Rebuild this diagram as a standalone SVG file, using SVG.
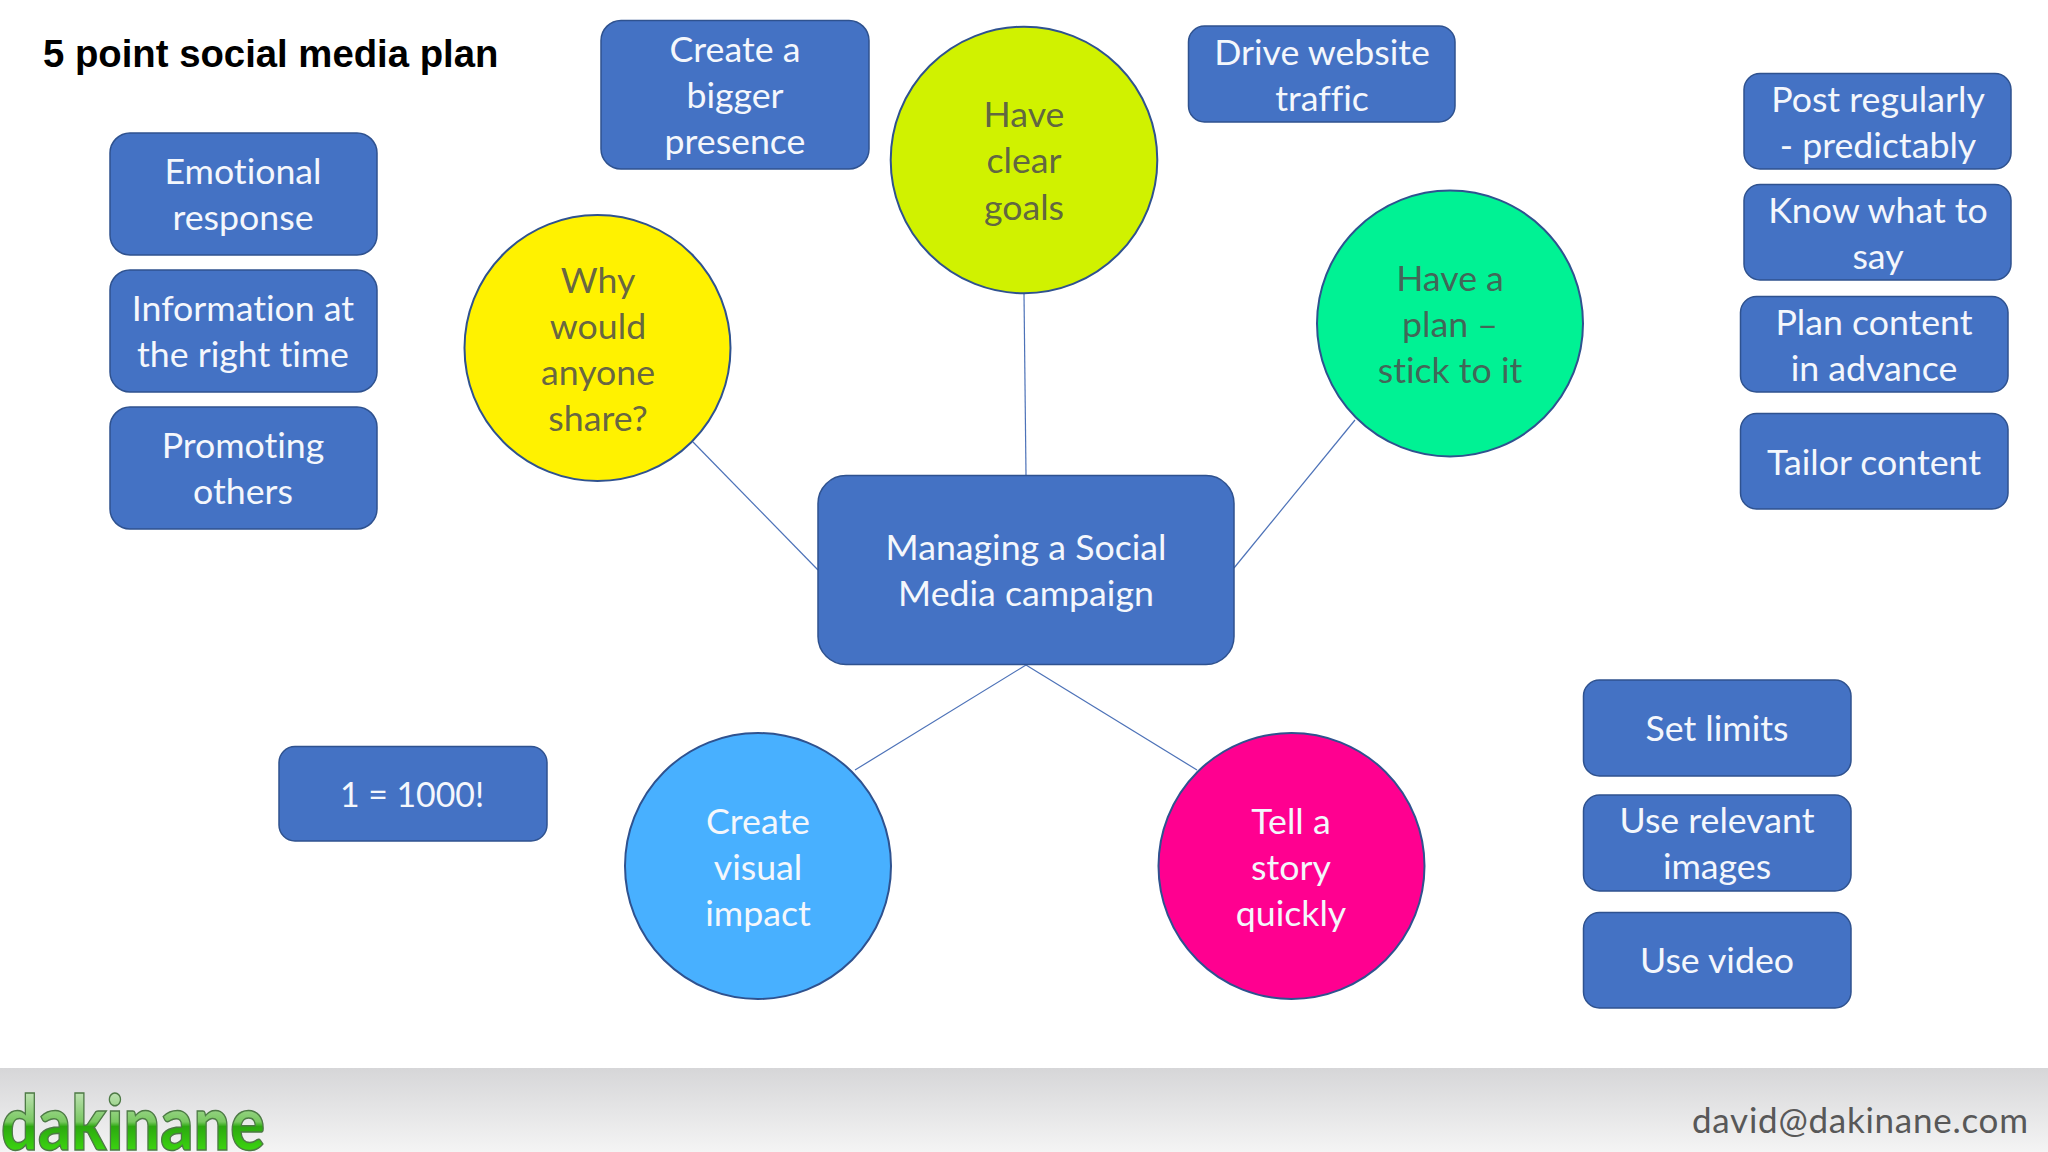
<svg xmlns="http://www.w3.org/2000/svg" width="2048" height="1152" viewBox="0 0 2048 1152">
<style>
.box{fill:#4472c4;stroke:#2f528f;stroke-width:1.5}
.circ{stroke:#2f528f;stroke-width:2}
.t{font-family:"Lato","Noto Sans",sans-serif;font-size:35.7px;text-anchor:middle;fill:#f4f7fc;font-variant-ligatures:none}
.d{fill:#4e4e4e;fill-opacity:.87}
.c{fill:none;stroke:#4d72b8;stroke-width:1.2}
</style>
<defs>
<linearGradient id="foot" x1="0" y1="0" x2="0" y2="1"><stop offset="0" stop-color="#d6d6d8"/><stop offset="1" stop-color="#f4f4f4"/></linearGradient>
<linearGradient id="logo" gradientUnits="userSpaceOnUse" x1="0" y1="1085" x2="0" y2="1152"><stop offset="0" stop-color="#d0e8c8"/><stop offset="0.55" stop-color="#78c860"/><stop offset="0.62" stop-color="#2ca810"/><stop offset="1" stop-color="#3cd810"/></linearGradient>
</defs>
<rect width="2048" height="1152" fill="#ffffff"/>
<text x="43" y="67" font-family="Liberation Sans,sans-serif" font-size="38.3" font-weight="700" fill="#000">5 point social media plan</text>
<g id="connectors">
<line class="c" x1="1024" y1="294" x2="1026" y2="475"/>
<line class="c" x1="693" y1="442" x2="818" y2="570"/>
<line class="c" x1="1355" y1="420" x2="1234" y2="568"/>
<line class="c" x1="1026" y1="665" x2="855" y2="770"/>
<line class="c" x1="1026" y1="665" x2="1197" y2="770"/>
</g>
<g id="center"><rect class="box" x="818" y="475.5" width="416" height="189" rx="28"/><text class="t" x="1026" y="560">Managing a Social</text><text class="t" x="1026" y="606">Media campaign</text></g>
<g id="goals"><circle class="circ" cx="1024" cy="160" r="133.3" fill="#d0f200"/><text class="t d" x="1024" y="127">Have</text><text class="t d" x="1024" y="173">clear</text><text class="t d" x="1024" y="220">goals</text></g>
<g id="share"><circle class="circ" cx="597.5" cy="348" r="133" fill="#fff200"/><text class="t d" x="598" y="293">Why</text><text class="t d" x="598" y="339">would</text><text class="t d" x="598" y="385">anyone</text><text class="t d" x="598" y="431">share?</text></g>
<g id="plan"><circle class="circ" cx="1450" cy="323.5" r="133" fill="#00f294"/><text class="t d" x="1450" y="291">Have a</text><text class="t d" x="1450" y="337">plan –</text><text class="t d" x="1450" y="383">stick to it</text></g>
<g id="visual"><circle class="circ" cx="758" cy="866" r="133" fill="#48b0ff"/><text class="t" x="758" y="834">Create</text><text class="t" x="758" y="880">visual</text><text class="t" x="758" y="926">impact</text></g>
<g id="story"><circle class="circ" cx="1291.5" cy="866" r="133" fill="#ff0090"/><text class="t" x="1291" y="834">Tell a</text><text class="t" x="1291" y="880">story</text><text class="t" x="1291" y="926">quickly</text></g>
<g id="presence"><rect class="box" x="601" y="20.5" width="268" height="148.5" rx="20"/><text class="t" x="735" y="62">Create a</text><text class="t" x="735" y="108">bigger</text><text class="t" x="735" y="154">presence</text></g>
<g id="traffic"><rect class="box" x="1188.5" y="26" width="266.5" height="96" rx="16"/><text class="t" x="1322" y="65">Drive website</text><text class="t" x="1322" y="111">traffic</text></g>
<g id="regular"><rect class="box" x="1744" y="73.5" width="267" height="95.5" rx="16"/><text class="t" x="1878" y="112">Post regularly</text><text class="t" x="1878" y="158">- predictably</text></g>
<g id="know"><rect class="box" x="1744" y="184.5" width="267" height="95.5" rx="16"/><text class="t" x="1878" y="223">Know what to</text><text class="t" x="1878" y="269">say</text></g>
<g id="advance"><rect class="box" x="1740.5" y="296.5" width="267.5" height="95.5" rx="16"/><text class="t" x="1874" y="335">Plan content</text><text class="t" x="1874" y="381">in advance</text></g>
<g id="tailor"><rect class="box" x="1740.5" y="413.5" width="267.5" height="95.5" rx="16"/><text class="t" x="1874" y="475">Tailor content</text></g>
<g id="emotional"><rect class="box" x="110" y="133" width="267" height="122" rx="20"/><text class="t" x="243" y="184">Emotional</text><text class="t" x="243" y="230">response</text></g>
<g id="information"><rect class="box" x="110" y="270" width="267" height="122" rx="20"/><text class="t" x="243" y="321">Information at</text><text class="t" x="243" y="367">the right time</text></g>
<g id="promoting"><rect class="box" x="110" y="407" width="267" height="122" rx="20"/><text class="t" x="243" y="458">Promoting</text><text class="t" x="243" y="504">others</text></g>
<g id="ratio"><rect class="box" x="279" y="746.5" width="268" height="94.5" rx="16"/><text class="t" x="412" y="807" style="font-size:33.8px">1 = 1000!</text></g>
<g id="limits"><rect class="box" x="1583.5" y="680" width="267.5" height="96" rx="16"/><text class="t" x="1717" y="741">Set limits</text></g>
<g id="images"><rect class="box" x="1583.5" y="795" width="267.5" height="96" rx="16"/><text class="t" x="1717" y="833">Use relevant</text><text class="t" x="1717" y="879">images</text></g>
<g id="video"><rect class="box" x="1583.5" y="912.5" width="267.5" height="95.5" rx="16"/><text class="t" x="1717" y="973">Use video</text></g>
<g id="footer"><rect y="1068" width="2048" height="84" fill="url(#foot)"/>
<text x="1" y="1150" font-family="Lato,sans-serif" font-weight="900" font-size="76" textLength="264" lengthAdjust="spacingAndGlyphs" fill="url(#logo)" stroke="#4d7a45" stroke-width="1.5">dakinane</text>
<text x="1692" y="1133" font-family="Lato,sans-serif" font-size="35" textLength="336" fill="#585858">david@dakinane.com</text></g>
</svg>
